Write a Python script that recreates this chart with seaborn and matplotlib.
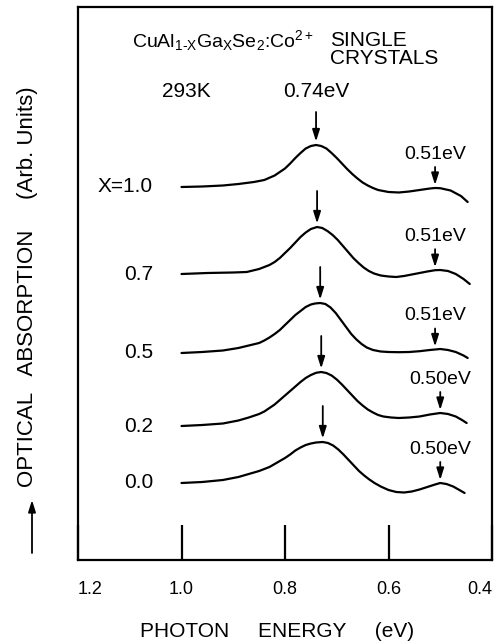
import matplotlib
matplotlib.use("Agg")
import matplotlib.pyplot as plt
import numpy as np
import pandas as pd
import seaborn as sns

# Ga fraction X of each CuAl(1-X)Ga(X)Se2:Co2+ crystal, top to bottom
compositions = [1.0, 0.7, 0.5, 0.2, 0.0]

# photon energy (eV) and absorption (arb. units) for each crystal
energy_x10 = [1.00, 0.96, 0.92, 0.89, 0.86, 0.84, 0.82, 0.80, 0.79, 0.78, 0.77, 0.76,
              0.75, 0.74, 0.73, 0.72, 0.71, 0.70, 0.69, 0.68, 0.67, 0.66, 0.65, 0.64,
              0.63, 0.62, 0.60, 0.58, 0.56, 0.54, 0.52, 0.51, 0.50, 0.48, 0.46, 0.447]
absorb_x10 = [0.00, 0.05, 0.15, 0.30, 0.50, 0.70, 1.15, 1.85, 2.35, 2.90, 3.40, 3.85,
              4.10, 4.20, 4.10, 3.85, 3.40, 2.90, 2.35, 1.80, 1.30, 0.85, 0.45, 0.15,
              -0.10, -0.30, -0.50, -0.55, -0.45, -0.30, -0.15, -0.10, -0.12, -0.35, -0.90, -1.50]

energy_x07 = [1.00, 0.95, 0.90, 0.874, 0.85, 0.83, 0.82, 0.81, 0.80, 0.79, 0.78, 0.77,
              0.76, 0.75, 0.738, 0.728, 0.718, 0.708, 0.698, 0.688, 0.678, 0.668, 0.658,
              0.648, 0.638, 0.628, 0.615, 0.60, 0.585, 0.57, 0.555, 0.54, 0.525, 0.51,
              0.50, 0.485, 0.47, 0.455, 0.443]
absorb_x07 = [0.00, 0.10, 0.15, 0.20, 0.50, 0.90, 1.20, 1.60, 2.10, 2.60, 3.15, 3.70,
              4.15, 4.50, 4.70, 4.60, 4.30, 3.90, 3.40, 2.80, 2.20, 1.60, 1.10,
              0.65, 0.30, 0.05, -0.15, -0.25, -0.30, -0.20, -0.05, 0.10, 0.25, 0.38,
              0.40, 0.30, 0.00, -0.50, -1.00]

energy_x05 = [1.00, 0.96, 0.92, 0.89, 0.87, 0.85, 0.84, 0.83, 0.82, 0.81, 0.80, 0.79,
              0.78, 0.77, 0.76, 0.75, 0.742, 0.732, 0.722, 0.712, 0.702, 0.692, 0.682,
              0.672, 0.662, 0.652, 0.642, 0.63, 0.615, 0.60, 0.58, 0.56, 0.54, 0.52,
              0.51, 0.50, 0.485, 0.47, 0.455, 0.447]
absorb_x05 = [0.00, 0.10, 0.25, 0.50, 0.75, 1.00, 1.25, 1.55, 1.90, 2.30, 2.80, 3.30,
              3.80, 4.20, 4.60, 4.85, 4.95, 5.00, 4.90, 4.55, 4.00, 3.30, 2.60,
              1.90, 1.35, 0.90, 0.55, 0.30, 0.15, 0.10, 0.08, 0.10, 0.18, 0.30,
              0.35, 0.40, 0.30, 0.10, -0.25, -0.50]

energy_x02 = [1.00, 0.96, 0.92, 0.89, 0.87, 0.85, 0.84, 0.83, 0.82, 0.81, 0.80, 0.79,
              0.78, 0.77, 0.76, 0.75, 0.74, 0.73, 0.72, 0.71, 0.70, 0.69, 0.68, 0.67,
              0.66, 0.65, 0.64, 0.63, 0.62, 0.61, 0.595, 0.58, 0.56, 0.54, 0.52, 0.50,
              0.485, 0.47, 0.458, 0.449]
absorb_x02 = [0.00, 0.10, 0.25, 0.55, 0.85, 1.20, 1.45, 1.80, 2.15, 2.60, 3.05, 3.50,
              3.95, 4.40, 4.80, 5.10, 5.32, 5.40, 5.30, 5.05, 4.65, 4.15, 3.60, 3.05,
              2.50, 2.05, 1.65, 1.35, 1.10, 0.95, 0.85, 0.80, 0.85, 0.95, 1.15, 1.30,
              1.20, 0.95, 0.60, 0.30]

energy_x00 = [1.00, 0.96, 0.92, 0.89, 0.87, 0.85, 0.83, 0.81, 0.80, 0.79, 0.78, 0.77,
              0.76, 0.75, 0.74, 0.727, 0.717, 0.707, 0.697, 0.687, 0.677, 0.667, 0.657,
              0.647, 0.637, 0.627, 0.615, 0.60, 0.585, 0.57, 0.555, 0.54, 0.525, 0.51,
              0.50, 0.488, 0.475, 0.463, 0.453]
absorb_x00 = [0.00, 0.10, 0.30, 0.60, 0.90, 1.20, 1.60, 2.20, 2.50, 2.85, 3.25, 3.55,
              3.80, 3.95, 4.05, 4.10, 4.00, 3.75, 3.35, 2.85, 2.30, 1.75, 1.20,
              0.75, 0.35, 0.00, -0.35, -0.70, -0.90, -0.95, -0.85, -0.65, -0.40, -0.15,
              0.00, -0.10, -0.35, -0.70, -1.00]

# vertical offset of each trace
offsets = [37.3, 28.6, 20.7, 13.4, 7.7]
# weak low-energy band position marked on each trace (eV)
shoulder_ev = [0.51, 0.51, 0.51, 0.50, 0.50]

xtick_values = [1.2, 1.0, 0.8, 0.6, 0.4]
xtick_labels = ["1.2", "1.0", "0.8", "0.6", "0.4"]

energies = [energy_x10, energy_x07, energy_x05, energy_x02, energy_x00]
absorbs = [absorb_x10, absorb_x07, absorb_x05, absorb_x02, absorb_x00]

rows = []
for comp, e_list, a_list, off in zip(compositions, energies, absorbs, offsets):
    for e, a in zip(e_list, a_list):
        rows.append({"crystal": f"X={comp:.1f}", "energy": e, "signal": a + off})
df = pd.DataFrame(rows)

sns.set_theme(style="ticks")
plt.rcParams["font.family"] = ["Liberation Sans", "DejaVu Sans"]
plt.rcParams["mathtext.fontset"] = "custom"
plt.rcParams["mathtext.rm"] = "Liberation Sans"
plt.rcParams["mathtext.it"] = "Liberation Sans:italic"
plt.rcParams["mathtext.default"] = "regular"

fig = plt.figure(figsize=(5.0, 6.42), dpi=100)
ax = fig.add_axes([78 / 500, 82 / 642, 414 / 500, 553 / 642])

sns.lineplot(data=df, x="energy", y="signal", units="crystal", estimator=None,
             sort=False, color="black", linewidth=1.6, legend=False, ax=ax)

ax.set_xlim(1.2, 0.4)
ax.set_ylim(0, 55.3)
ax.set_yticks([])
ax.set_xticks(xtick_values)
ax.set_xticklabels(xtick_labels)
ax.tick_params(axis="x", direction="in", length=25, width=1.6, pad=15,
               labelsize=13, colors="black")
tl = ax.get_xticklabels()
tl[0].set_horizontalalignment("left")
tl[-1].set_horizontalalignment("right")
ax.set_xlabel("")
ax.set_ylabel("")
for sp in ax.spines.values():
    sp.set_visible(True)
    sp.set_linewidth(1.6)
    sp.set_color("black")

arrow_kw = dict(arrowstyle="-|>,head_length=0.7,head_width=0.22", color="black",
                lw=1.3, mutation_scale=10, shrinkA=0, shrinkB=0)

txt = dict(color="black", fontsize=15)

# headings
ax.text(1.096, 51.3, r"CuAl$_{\mathrm{1\text{-}X}}$Ga$_{\mathrm{X}}$Se$_{2}$:Co$^{2+}$",
        ha="left", va="baseline", color="black", fontsize=14)
ax.text(0.713, 51.4, "SINGLE", ha="left", va="baseline", **txt)
ax.text(0.713, 49.6, "CRYSTALS", ha="left", va="baseline", **txt)
ax.text(1.038, 46.3, "293K", ha="left", va="baseline", **txt)

for i, (comp, e_list, a_list, off, sh) in enumerate(
        zip(compositions, energies, absorbs, offsets, shoulder_ev)):
    e_arr = np.array(e_list)
    a_arr = np.array(a_list)
    # composition label at the left end of the trace
    label = f"X={comp:.1f}" if i == 0 else f"{comp:.1f}"
    ax.text(1.055, off, label, ha="right", va="center", **txt)

    # main absorption band maximum
    k = int(np.argmax(a_arr))
    pe, py = e_arr[k], a_arr[k] + off
    tail = py + (3.3 if i == 0 else 3.6)
    ax.annotate("", xy=(pe, py + 0.35), xytext=(pe, tail), arrowprops=arrow_kw)
    if i == 0:
        ax.text(pe, 46.3, f"{pe:.2f}eV", ha="center", va="baseline", **txt)

    # weak low-energy band
    sy = np.interp(sh, e_arr[::-1], a_arr[::-1]) + off
    ax.annotate("", xy=(sh, sy + 0.3), xytext=(sh, sy + 2.1), arrowprops=arrow_kw)
    ax.text(sh, sy + 2.9, f"{sh:.2f}eV", ha="center", va="baseline",
            color="black", fontsize=14)

# axis titles
fig.text(277 / 500, 5 / 642, "PHOTON     ENERGY     (eV)", ha="center",
         va="baseline", color="black", fontsize=15)
fig.text(28 / 500, (642 - 287) / 642, "OPTICAL   ABSORPTION     (Arb. Units)",
         ha="center", va="center", rotation=90, color="black", fontsize=16)
fig.add_artist(matplotlib.patches.FancyArrowPatch(
    (32 / 500, (642 - 553) / 642), (32 / 500, (642 - 500) / 642),
    transform=fig.transFigure, arrowstyle="-|>,head_length=0.7,head_width=0.22",
    mutation_scale=10, color="black", lw=1.3, shrinkA=0, shrinkB=0))

fig.savefig("out.png", dpi=100, facecolor="white")
